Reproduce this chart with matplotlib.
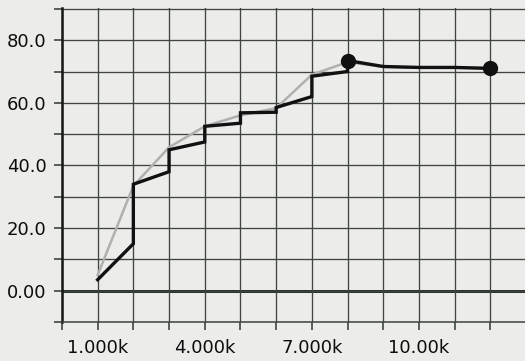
import matplotlib
matplotlib.use("Agg")
import matplotlib.pyplot as plt
from matplotlib.ticker import MultipleLocator

# Measured response (stepped trace) and fitted envelope
step_x = [1000, 2000, 2000, 3000, 3000, 4000, 4000, 5000, 5000, 6000, 6000,
          7000, 7000, 8000, 8000, 9000, 10000, 11000, 12000]
step_y = [3.5, 15.0, 34.0, 38.0, 45.0, 47.5, 52.5, 53.5, 56.8, 57.0, 58.5,
          62.0, 68.5, 70.0, 73.5, 71.6, 71.3, 71.3, 71.0]

env_x = [1000, 2000, 3000, 4000, 5000, 6000, 7000, 8000, 9000, 10000, 11000, 12000]
env_y = [5.0, 33.5, 45.8, 52.5, 56.0, 58.3, 69.0, 73.0, 71.5, 71.2, 71.2, 71.0]

marked = [14, 18]  # points of step trace drawn with a dot

x_tick_pos = [1000, 4000, 7000, 10000]
x_tick_labels = ["1.000k", "4.000k", "7.000k", "10.00k"]
y_tick_pos = [0, 20, 40, 60, 80]
y_tick_labels = ["0.00", "20.0", "40.0", "60.0", "80.0"]

bg = "#ececea"
grid_c = "#3e4640"

fig = plt.figure(figsize=(5.25, 3.61), dpi=100, facecolor=bg)
ax = fig.add_axes([0.118, 0.108, 0.882, 0.870], facecolor=bg)

ax.set_xlim(0, 12970)
ax.set_ylim(-10, 90.3)

# grid: every 1000 on x, every 10 on y
ax.xaxis.set_major_locator(MultipleLocator(1000))
ax.yaxis.set_major_locator(MultipleLocator(10))
ax.grid(True, which="major", color=grid_c, linewidth=0.95, zorder=0)
ax.axhline(0, color="#151815", linewidth=2.0, zorder=1)

ax.plot(env_x, env_y, color="#b0b0ae", linewidth=1.8, zorder=2)
ax.plot(step_x, step_y, color="#111111", linewidth=2.4, zorder=3,
        marker="o", markersize=10, markevery=marked,
        markerfacecolor="#111111", markeredgecolor="#111111",
        solid_joinstyle="miter")

# tick labels only on a subset of grid ticks
xt = list(range(0, 13000, 1000))
ax.set_xticks(xt)
ax.set_xticklabels([x_tick_labels[x_tick_pos.index(v)] if v in x_tick_pos else ""
                    for v in xt])
yt = list(range(-10, 91, 10))
ax.set_yticks(yt)
ax.set_yticklabels([y_tick_labels[y_tick_pos.index(v)] if v in y_tick_pos else ""
                    for v in yt])

ax.tick_params(axis="both", direction="out", length=6, width=1.2,
               color=grid_c, labelsize=13, labelcolor="#0d0d0d")
ax.tick_params(axis="x", pad=6.5)
ax.tick_params(axis="y", pad=5)

for s in ("top", "right"):
    ax.spines[s].set_visible(False)
ax.spines["left"].set_color("#151815")
ax.spines["left"].set_linewidth(1.8)
ax.spines["bottom"].set_color(grid_c)
ax.spines["bottom"].set_linewidth(1.1)

fig.savefig("out.png", dpi=100, facecolor=bg)
